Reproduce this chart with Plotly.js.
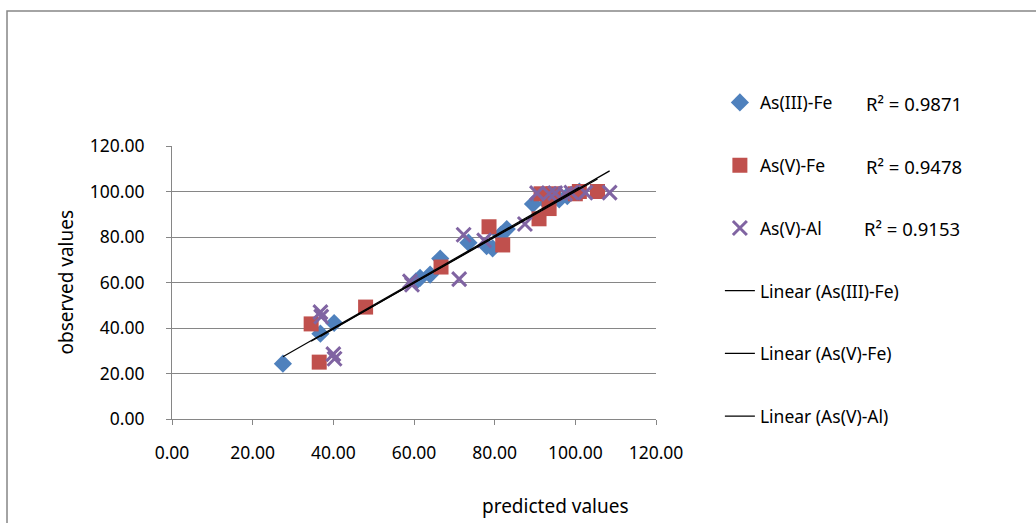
<!DOCTYPE html>
<html>
<head>
<meta charset="utf-8">
<script src="https://cdn.plot.ly/plotly-3.0.1.min.js"></script>
<style>html,body{margin:0;padding:0;background:#fff;}#chart{width:1036px;height:523px;}</style>
</head>
<body>
<div id="chart"></div>
<script>
// As(III)-Fe
const feIIIx = [27.5, 36.8, 40.2, 60.5, 61.5, 64.0, 66.5, 73.5, 78.0, 79.5, 81.5, 83.0, 89.5, 93.0, 96.0, 98.0, 101.0];
const feIIIy = [24.3, 37.5, 42.2, 60.5, 62.0, 63.5, 70.5, 77.5, 76.0, 75.0, 81.0, 83.5, 94.5, 95.0, 96.5, 98.0, 100.0];
// As(V)-Fe
const feVx = [34.5, 36.5, 48.0, 66.7, 78.6, 82.0, 91.0, 91.5, 93.5, 94.5, 100.0, 101.0, 105.5];
const feVy = [41.8, 25.0, 49.2, 66.8, 84.5, 76.5, 88.0, 99.0, 92.5, 99.0, 99.0, 100.0, 100.0];
// As(V)-Al
const alVx = [36.8, 37.0, 40.0, 40.3, 59.0, 59.5, 71.2, 72.3, 77.4, 87.5, 90.5, 93.5, 95.0, 97.5, 99.0, 102.5, 108.5];
const alVy = [47.0, 45.0, 28.5, 26.5, 60.5, 59.0, 61.5, 81.0, 78.5, 85.7, 99.3, 99.0, 99.3, 99.0, 99.5, 99.5, 99.5];

const seriesNames = ["As(III)-Fe", "As(V)-Fe", "As(V)-Al"];
const r2Labels = ["R² = 0.9871", "R² = 0.9478", "R² = 0.9153"];
const xTicks = [0, 20, 40, 60, 80, 100, 120];
const yTicks = [0, 20, 40, 60, 80, 100, 120];

function fit(xs, ys) {
  const n = xs.length;
  let sx = 0, sy = 0, sxx = 0, sxy = 0;
  for (let i = 0; i < n; i++) { sx += xs[i]; sy += ys[i]; sxx += xs[i]*xs[i]; sxy += xs[i]*ys[i]; }
  const b = (n*sxy - sx*sy) / (n*sxx - sx*sx);
  const a = (sy - b*sx) / n;
  const x0 = Math.min(...xs), x1 = Math.max(...xs);
  return {x: [x0, x1], y: [a + b*x0, a + b*x1]};
}

const font = "Noto Sans, sans-serif";
const data = [];
const sets = [[feIIIx, feIIIy], [feVx, feVy], [alVx, alVy]];
const markers = [
  {symbol: "diamond", size: 14, color: "#4F81BD"},
  {symbol: "square", size: 15, color: "#C0504D"},
  {symbol: "x-thin", size: 14, color: "#8064A2", line: {color: "#8064A2", width: 3}}
];
sets.forEach((s, i) => {
  data.push({x: s[0], y: s[1], type: "scatter", mode: "markers", name: seriesNames[i],
    marker: markers[i], legendgroup: "g" + i});
});
sets.forEach((s, i) => {
  const f = fit(s[0], s[1]);
  data.push({x: f.x, y: f.y, type: "scatter", mode: "lines", name: "Linear (" + seriesNames[i] + ")",
    line: {color: "#000000", width: 1.2}, legendgroup: "l" + i});
});

const rowY = [1.1575, 0.9267, 0.696];
const rowX = [1.4298, 1.4298, 1.4256];
const annotations = r2Labels.map((t, i) => ({
  text: t, xref: "paper", yref: "paper", x: rowX[i], y: rowY[i], xanchor: "left", yanchor: "middle",
  showarrow: false, font: {family: font, size: 18.5, color: "#000"}
}));
annotations.push({text: "predicted values", xref: "paper", yref: "paper", x: 0.793, y: -0.319,
  xanchor: "center", yanchor: "middle", showarrow: false, font: {family: font, size: 19, color: "#000"}});
annotations.push({text: "observed values", xref: "paper", yref: "paper", x: -0.221, y: 0.5, textangle: -90,
  xanchor: "center", yanchor: "middle", showarrow: false, font: {family: font, size: 19, color: "#000"}});

const layout = {
  width: 1036, height: 523,
  margin: {l: 172, r: 380, t: 146, b: 104, pad: 0},
  paper_bgcolor: "#fff", plot_bgcolor: "#fff",
  font: {family: font, size: 16, color: "#000"},
  showlegend: true,
  legend: {x: 1.132, y: 1.225, xanchor: "left", yanchor: "top", tracegroupgap: 37, maxheight: 500,
    font: {family: font, size: 17.5, color: "#000"}, bgcolor: "rgba(0,0,0,0)"},
  xaxis: {range: [0, 120], tickvals: xTicks, ticktext: xTicks.map(v => v.toFixed(2)),
    showgrid: false, zeroline: false, showline: true, linecolor: "#868686", linewidth: 1,
    ticks: "outside", ticklen: 5, tickcolor: "#868686", ticklabelstandoff: 13,
    tickfont: {family: font, size: 17.5, color: "#000"}},
  yaxis: {range: [0, 120], tickvals: yTicks, ticktext: yTicks.map(v => v.toFixed(2)),
    showgrid: true, gridcolor: "#868686", gridwidth: 1, zeroline: false, showline: true,
    linecolor: "#868686", linewidth: 1, ticks: "outside", ticklen: 5, tickcolor: "#868686",
    ticklabelstandoff: 18, tickfont: {family: font, size: 17.5, color: "#000"}},
  shapes: [{type: "rect", xref: "paper", yref: "paper", x0: -0.3409, x1: 1.8, y0: -0.45, y1: 1.4945,
    line: {color: "#868686", width: 1.5}, fillcolor: "rgba(0,0,0,0)", layer: "below"}],
  annotations: annotations
};

Plotly.newPlot("chart", data, layout, {displayModeBar: false, staticPlot: true});
</script>
</body>
</html>
